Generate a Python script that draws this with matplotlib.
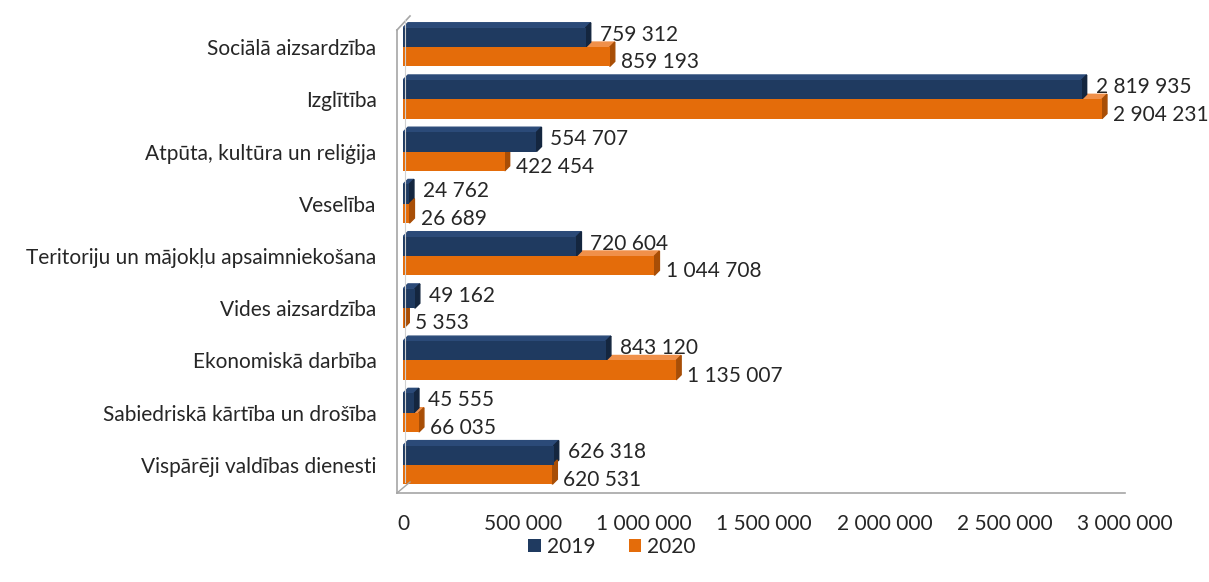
import matplotlib
matplotlib.use("Agg")
import matplotlib.pyplot as plt
from matplotlib.patches import Polygon
from matplotlib.lines import Line2D

categories = [
    "Sociālā aizsardzība",
    "Izglītība",
    "Atpūta, kultūra un reliģija",
    "Veselība",
    "Teritoriju un mājokļu apsaimniekošana",
    "Vides aizsardzība",
    "Ekonomiskā darbība",
    "Sabiedriskā kārtība un drošība",
    "Vispārēji valdības dienesti",
]
values_2019 = [759312, 2819935, 554707, 24762, 720604, 49162, 843120, 45555, 626318]
values_2020 = [859193, 2904231, 422454, 26689, 1044708, 5353, 1135007, 66035, 620531]
series_labels = ["2019", "2020"]
xticks = [0, 500000, 1000000, 1500000, 2000000, 2500000, 3000000]

navy = "#1F3A60"
navy_side = "#14263F"
navy_top = "#2B4A78"
orange = "#E46C0A"
orange_side = "#A84E06"
orange_top = "#F0904A"
text_col = "#262626"

plt.rcParams['font.family'] = ['Lato', 'DejaVu Sans']
FS = 15

W, H = 1209, 582
fig = plt.figure(figsize=(W / 100, H / 100), dpi=100)
ax = fig.add_axes([403 / W, 1 - 490 / H, (1125 - 403) / W, (490 - 22) / H])

n = len(categories)
ys = list(range(n))
h = 0.37
xmax = 3000000
dx = 5 * xmax / (1125 - 403)
dy = 5 / 52.25

def fmt(v):
    return f"{v:,}".replace(",", " ")

for vals, off, col, side, top, lab, txt_off in [
    (values_2019, -h / 2, navy, navy_side, navy_top, series_labels[0], (10, 2)),
    (values_2020, h / 2, orange, orange_side, orange_top, series_labels[1], (8, -4)),
]:
    yc = [y + off for y in ys]
    ax.barh(yc, vals, height=h, color=col, label=lab, zorder=3)
    for y, v in zip(yc, vals):
        y0, y1 = y - h / 2, y + h / 2
        ax.add_patch(Polygon([(v, y1), (v, y0), (v + dx, y0 - dy), (v + dx, y1 - dy)],
                             closed=True, color=side, zorder=2.5))
        ax.add_patch(Polygon([(0, y0), (v, y0), (v + dx, y0 - dy), (dx, y0 - dy)],
                             closed=True, color=top, zorder=2.4))
        ax.annotate(fmt(v), (v, y), xytext=txt_off, textcoords="offset points",
                    ha="left", va="center", fontsize=FS, color=text_col)

ax.set_xlim(0, xmax)
ax.set_ylim(n - 1 + 0.48, -0.48)
ax.set_yticks(ys)
ax.set_yticklabels(categories, fontsize=FS, color=text_col)
ax.set_xticks(xticks)
ax.set_xticklabels([fmt(t) for t in xticks], fontsize=FS, color=text_col)
ax.tick_params(axis="both", length=0)
ax.tick_params(axis="y", pad=19)
ax.tick_params(axis="x", pad=17)
for s in ax.spines.values():
    s.set_visible(False)

wall = "#A6A6A6"
fig.add_artist(Line2D([397 / W, 397 / W], [1 - 493 / H, 1 - 30 / H], color=wall, lw=1.2))
fig.add_artist(Line2D([397 / W, 410 / W], [1 - 30 / H, 1 - 16 / H], color=wall, lw=1.2))
fig.add_artist(Line2D([397 / W, 1125 / W], [1 - 493 / H, 1 - 493 / H], color=wall, lw=1.2))
fig.add_artist(Line2D([397 / W, 410 / W], [1 - 493 / H, 1 - 482 / H], color=wall, lw=1.0))
fig.add_artist(Line2D([405 / W, 405 / W], [1 - 482 / H, 1 - 20 / H], color="#D0D0D0", lw=0.8))

leg = fig.legend(loc="center", bbox_to_anchor=(612 / W, 1 - 547 / H), ncol=2, frameon=False,
                 fontsize=FS, handlelength=0.6, handleheight=0.6, handletextpad=0.3,
                 columnspacing=1.6)
for t in leg.get_texts():
    t.set_color(text_col)

fig.savefig("out.png", dpi=100)
